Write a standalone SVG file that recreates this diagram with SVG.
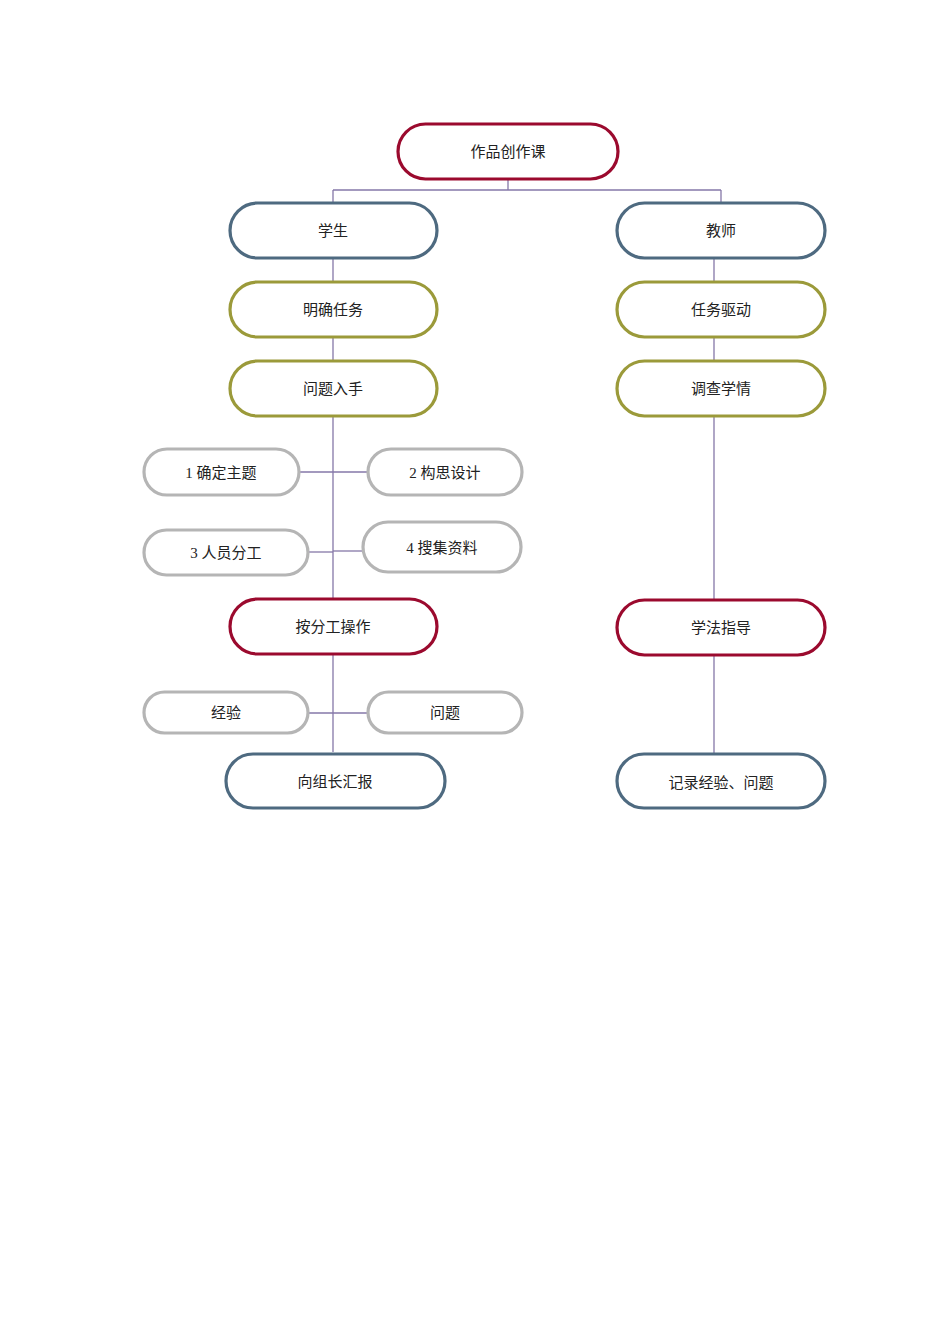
<svg xmlns="http://www.w3.org/2000/svg" width="950" height="1344" viewBox="0 0 950 1344">
<style>
rect{fill:#fff;stroke-width:3.2}
.r{stroke:#9b0a2e}.b{stroke:#4e6a80}.o{stroke:#9b9a3a}.g{stroke:#b5b5b5}
text{font-family:"Liberation Serif","Noto Sans CJK SC",serif;font-size:15px;fill:#222;text-anchor:middle;dominant-baseline:central}
#connectors line{stroke:#8577a8;stroke-width:1.3}
</style>
<rect width="950" height="1344" fill="#fff" stroke="none"/>
<g id="connectors">
<line x1="508" y1="179" x2="508" y2="190"/>
<line x1="333" y1="190" x2="721" y2="190"/>
<line x1="333" y1="190" x2="333" y2="203"/>
<line x1="721" y1="190" x2="721" y2="203"/>
<line x1="333" y1="258" x2="333" y2="282"/>
<line x1="333" y1="337" x2="333" y2="361"/>
<line x1="333" y1="416" x2="333" y2="599"/>
<line x1="714" y1="258" x2="714" y2="282"/>
<line x1="714" y1="337" x2="714" y2="361"/>
<line x1="714" y1="416" x2="714" y2="600"/>
<line x1="714" y1="655" x2="714" y2="754"/>
<line x1="299" y1="472" x2="368" y2="472"/>
<line x1="308" y1="552" x2="333" y2="552"/>
<line x1="333" y1="551" x2="363" y2="551"/>
<line x1="333" y1="651" x2="333" y2="752"/>
<line x1="308" y1="713" x2="368" y2="713"/>
</g>
<g id="n1"><rect class="r" x="398" y="124" width="220" height="55" rx="27.5"/><text x="508" y="152">作品创作课</text></g>
<g id="n2"><rect class="b" x="230" y="203" width="207" height="55" rx="27.5"/><text x="333" y="231">学生</text></g>
<g id="n3"><rect class="b" x="617" y="203" width="208" height="55" rx="27.5"/><text x="721" y="231">教师</text></g>
<g id="n4"><rect class="o" x="230" y="282" width="207" height="55" rx="27.5"/><text x="333" y="310">明确任务</text></g>
<g id="n5"><rect class="o" x="617" y="282" width="208" height="55" rx="27.5"/><text x="721" y="310">任务驱动</text></g>
<g id="n6"><rect class="o" x="230" y="361" width="207" height="55" rx="27.5"/><text x="333" y="389">问题入手</text></g>
<g id="n7"><rect class="o" x="617" y="361" width="208" height="55" rx="27.5"/><text x="721" y="389">调查学情</text></g>
<g id="n8"><rect class="g" x="144" y="449" width="155" height="46" rx="23"/><text x="221" y="473">1 确定主题</text></g>
<g id="n9"><rect class="g" x="368" y="449" width="154" height="46" rx="23"/><text x="445" y="473">2 构思设计</text></g>
<g id="n10"><rect class="g" x="144" y="530" width="164" height="45" rx="22.5"/><text x="226" y="553">3 人员分工</text></g>
<g id="n11"><rect class="g" x="363" y="522" width="158" height="50" rx="25"/><text x="442" y="548">4  搜集资料</text></g>
<g id="n12"><rect class="r" x="230" y="599" width="207" height="55" rx="27.5"/><text x="333" y="627">按分工操作</text></g>
<g id="n13"><rect class="r" x="617" y="600" width="208" height="55" rx="27.5"/><text x="721" y="628">学法指导</text></g>
<g id="n14"><rect class="g" x="144" y="692" width="164" height="41" rx="20.5"/><text x="226" y="713">经验</text></g>
<g id="n15"><rect class="g" x="368" y="692" width="154" height="41" rx="20.5"/><text x="445" y="713">问题</text></g>
<g id="n16"><rect class="b" x="226" y="754" width="219" height="54" rx="27"/><text x="335" y="782">向组长汇报</text></g>
<g id="n17"><rect class="b" x="617" y="754" width="208" height="54" rx="27"/><text x="721" y="783">记录经验、问题</text></g>
</svg>
